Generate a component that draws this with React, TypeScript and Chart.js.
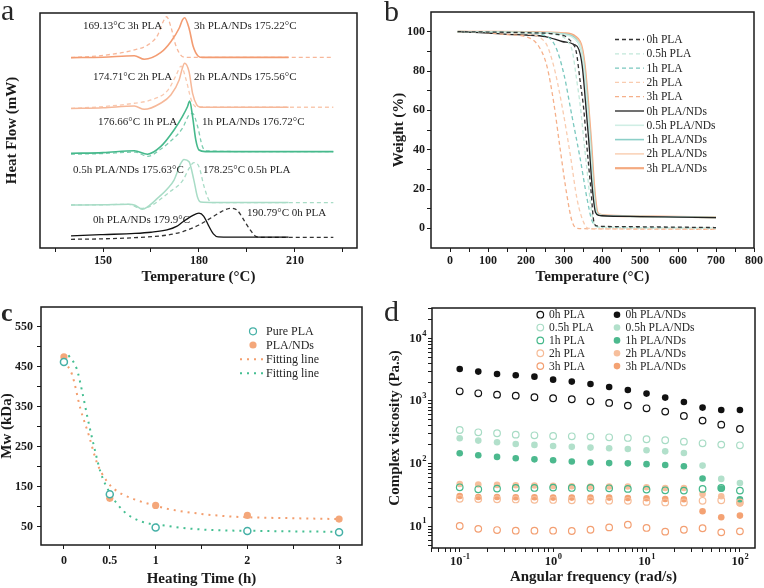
import React, { useEffect, useRef } from 'react';
import { Chart, registerables } from 'chart.js';

Chart.register(...registerables);

const SERIF = '"Liberation Serif", "Times New Roman", serif';
const INK = '#1a1a1a';

// ================= Panel a : DSC curves (T in °C, heat flow in offset units) =================
const a0hNdT = [140, 150, 160, 165, 170, 173, 175, 178, 180, 181.5, 183, 184.5, 186, 190, 200, 208];
const a0hNdV = [5.2, 5.7, 6.2, 6.7, 7.7, 9.2, 11.2, 13.8, 14.8, 13.5, 9.5, 6.0, 4.7, 4.6, 4.6, 4.6];
const a0hT = [140, 150, 160, 170, 175, 180, 184, 187, 190, 192, 194, 196, 198, 200, 210, 222];
const a0hV = [3.7, 3.9, 4.4, 5.5, 7.0, 9.8, 13.0, 15.5, 16.9, 16.0, 12.0, 7.7, 4.8, 4.5, 4.5, 4.5];
const a05NdT = [140, 150, 158, 160, 162.3, 164, 167, 170, 172.2, 174.3, 175.3, 176.9, 178.4, 179.5, 180.5, 185, 200, 208];
const a05NdV = [18.3, 18.4, 18.6, 18.2, 16.5, 17.6, 21.1, 25.0, 28.9, 36.0, 37.7, 36.7, 28.9, 21.8, 19.6, 19.4, 19.4, 19.4];
const a05T = [140, 150, 158, 162, 165, 170.3, 175, 176.9, 178.4, 180, 181.6, 183.1, 184.5, 200, 222];
const a05V = [18.3, 18.4, 18.6, 16.8, 18.0, 23.3, 28.9, 33.9, 36.3, 34.6, 26.1, 20.4, 19.3, 19.3, 19.3];
const a1NdT = [140, 150, 159.8, 163.9, 168, 172.2, 174.8, 176.4, 177.1, 178, 179, 180, 182, 200, 222];
const a1NdV = [40.3, 40.6, 41.4, 39.9, 43.1, 50.2, 55.9, 60.1, 62.5, 55.9, 46.0, 41.7, 41.0, 41.0, 41.0];
const a1T = [140, 150, 160, 164, 168, 170.3, 174.8, 176.9, 178, 179.6, 181.1, 182.7, 200, 222];
const a1V = [39.9, 40.2, 40.8, 39.0, 42.0, 44.5, 50.9, 56.6, 57.3, 51.6, 43.1, 41.3, 41.0, 41.0];
const a2NdT = [140, 150, 159.8, 162.9, 168, 171.2, 173.8, 174.8, 175.5, 176.9, 178, 179.3, 180.5, 200, 208];
const a2NdV = [59.4, 59.7, 60.4, 59.0, 61.6, 65.1, 71.5, 76.5, 78.6, 75.0, 65.8, 60.9, 59.9, 59.9, 59.9];
const a2T = [140, 150, 159.8, 165, 170.3, 172.9, 174.4, 176, 177.6, 179.1, 190, 222];
const a2V = [59.4, 60.2, 61.6, 63.0, 67.2, 73.6, 77.4, 71.5, 63.0, 60.1, 59.9, 59.9];
const a3NdT = [140, 150, 159.8, 162.9, 168, 171.2, 173.8, 174.8, 175.5, 176.9, 178.2, 179.7, 181, 200, 208];
const a3NdV = [81.0, 81.2, 81.8, 80.3, 83.1, 87.8, 93.5, 97.0, 98.0, 93.5, 85.7, 81.7, 81.1, 81.1, 81.1];
const a3T = [140, 150.8, 159.8, 164, 167.1, 168.8, 169.9, 171.2, 172.7, 174.3, 175.9, 190, 222];
const a3V = [81.0, 82.1, 84.3, 86.4, 90.6, 96.3, 98.4, 94.2, 86.4, 82.1, 81.1, 81.1, 81.1];
const aTicks = [135, 150, 165, 180, 195, 210, 225];
const aLabels = [150, 180, 210];

// ================= Panel b : TGA curves (T in °C, weight %) =================
const b0hT = [20, 100, 200, 300, 308, 321, 332, 343, 352, 361, 370, 379, 387, 400, 500, 600, 700];
const b0hW = [100, 99.8, 99.5, 98, 97, 94.4, 90, 74, 60.5, 40, 21.5, 3, 1.2, 1.0, 0.8, 0.6, 0.4];
const b05T = [20, 100, 200, 290, 310, 322, 333, 343, 352, 362, 370, 378, 388, 400, 700];
const b05W = [100, 99.8, 99.5, 98, 95, 90, 76, 62, 45, 27, 12, 3, 0.8, 0.5, 0.2];
const b1T = [20, 100, 200, 250, 277, 299, 321, 343, 361, 374, 392, 500, 700];
const b1W = [100, 99.8, 99.3, 98, 92.7, 79, 57, 35, 14.7, 3.7, 0.7, 0.4, 0.2];
const b2T = [20, 100, 200, 251, 273, 295, 317, 334.5, 352, 365, 400, 700];
const b2W = [100, 99.7, 98.8, 94.4, 82.5, 62, 36.8, 14.7, 2.9, 0, -0.2, -0.4];
const b3T = [20, 100, 150, 198, 233, 255, 273, 290, 308, 321, 334.5, 400, 700];
const b3W = [100, 99.5, 98.5, 97.5, 92.7, 82.5, 63.9, 40.2, 16.4, 3.7, 0, -0.3, -0.5];
const b0hNdT = [20, 100, 154, 200, 251, 295, 326, 339, 348, 356, 365, 374, 383, 392, 400, 500, 600, 700];
const b0hNdW = [100, 99.3, 98.6, 98.3, 97.5, 95, 93.5, 91, 82.5, 65.6, 45, 21.5, 8, 6.6, 6.4, 6.0, 5.7, 5.4];
const b05NdT = [20, 100, 200, 300, 330, 345, 352, 360, 368, 376, 385, 392, 400, 500, 700];
const b05NdW = [100, 99.8, 99.5, 98.5, 96, 91, 82, 65, 45, 22, 8, 6.8, 6.5, 6.0, 5.5];
const b1NdT = [20, 100, 200, 300, 330, 345, 353, 361, 369, 377, 386, 393, 400, 500, 700];
const b1NdW = [100, 99.8, 99.6, 98.8, 96.5, 91, 82, 65, 45, 22, 8, 6.8, 6.5, 6.0, 5.5];
const b2NdT = [20, 100, 200, 300, 330, 346, 354, 362, 370, 378, 387, 394, 400, 500, 700];
const b2NdW = [100, 99.9, 99.7, 99, 97, 92, 82, 65, 45, 22, 8, 6.9, 6.6, 6.0, 5.6];
const b3NdT = [20, 100, 200, 300, 330, 347, 355, 363, 371, 379, 388, 395, 400, 500, 700];
const b3NdW = [100, 99.9, 99.8, 99.2, 97.5, 92, 82, 65, 45, 22, 8, 7, 6.7, 6.1, 5.6];
const bXTicks = [0, 50, 100, 150, 200, 250, 300, 350, 400, 450, 500, 550, 600, 650, 700, 750, 800];
const bYTicks = [0, 10, 20, 30, 40, 50, 60, 70, 80, 90, 100];

// ================= Panel c : Mw vs heating time =================
const cTime = [0, 0.5, 1, 2, 3];
const cPure = [462, 131, 48, 39, 36];
const cNDs = [475, 121, 103, 78, 69];
const cFitNdT = [0, 0.09, 0.18, 0.27, 0.36, 0.47, 0.56, 0.76, 0.94, 1.12, 1.49, 1.85, 2.5, 3.0];
const cFitNdV = [465, 430, 345, 280, 210, 163, 142, 119, 106, 95, 82, 75, 71, 69];
const cFitPureT = [0.05, 0.14, 0.2, 0.26, 0.33, 0.4, 0.51, 0.65, 0.83, 1.12, 1.49, 2.21, 3.0];
const cFitPureV = [479, 445, 387, 320, 249, 186, 131, 89, 64, 52, 43, 39, 37];
const cXTicks = [0, 0.5, 1, 1.5, 2, 2.5, 3];
const cXLabels = [0, 0.5, 1, 2, 3];
const cYTicks = [50, 100, 150, 200, 250, 300, 350, 400, 450, 500, 550];
const cYLabels = [50, 150, 250, 350, 450, 550];

// ================= Panel d : complex viscosity vs angular frequency =================
const dFreq = [0.1, 0.158, 0.251, 0.398, 0.631, 1, 1.585, 2.512, 3.981, 6.31, 10, 15.85, 25.12, 39.81, 63.1, 100];
const d0h = [1427, 1325, 1262, 1216, 1145, 1104, 1064, 988, 929, 843, 764, 676, 576, 486, 419, 357];
const d0hNd = [3243, 2939, 2698, 2570, 2443, 2190, 2035, 1868, 1672, 1499, 1310, 1131, 964, 783, 718, 718];
const d05 = [344, 316, 305, 290, 283, 276, 273, 270, 263, 257, 245, 236, 224, 211, 201, 196];
const d05Nd = [254, 233, 219, 206, 199, 191, 185, 180, 176, 171, 163, 157, 148, 93, 57, 49];
const d1 = [41.9, 38.9, 39.9, 40.9, 40.9, 41.4, 40.9, 40.9, 40.4, 39.5, 38.5, 37.5, 37.1, 39.5, 40.9, 37.1];
const d1Nd = [146, 136, 128, 122, 117, 113, 108, 104, 102, 101, 98, 95, 91, 58, 40, 27];
const d2 = [27.5, 27.2, 27.0, 26.8, 26.5, 26.3, 26.0, 25.8, 25.6, 25.5, 24.5, 24.0, 24.0, 25.5, 26.0, 24.0];
const d2Nd = [47.4, 46.3, 45.7, 45.2, 44.7, 44.1, 43.6, 43.1, 43.1, 43.1, 41.9, 40.9, 40.9, 32.8, 30.1, 23.0];
const d3 = [10.1, 9.1, 8.7, 8.5, 8.5, 8.5, 8.4, 8.8, 9.6, 10.6, 9.4, 8.2, 8.8, 9.3, 8.0, 8.3];
const d3Nd = [30.5, 29.4, 29.4, 29.0, 29.0, 28.7, 28.7, 28.7, 28.7, 28.3, 28.0, 27.3, 27.0, 17.4, 13.9, 14.8];
const dXPowers = [0.1, 1, 10, 100];
const dYPowers = [10, 100, 1000, 10000];

// ---------------- helpers ----------------
const zip = (xs: number[], ys: number[]) => xs.map((x, i) => ({ x, y: ys[i] }));
const tickFont = { family: SERIF, size: 12, weight: 'bold' as const };
const titleFont = { family: SERIF, size: 15, weight: 'bold' as const };

function logTicks(lo: number, hi: number) {
  const out: number[] = [];
  for (let e = -3; e <= 5; e++) {
    for (let d = 1; d <= 9; d++) {
      const v = parseFloat((d * Math.pow(10, e)).toPrecision(6));
      if (v >= lo && v <= hi) out.push(v);
    }
  }
  return out;
}

function axis(o: any) {
  const horiz = o.pos === 'bottom';
  return {
    type: o.type || 'linear',
    position: o.pos,
    min: o.min,
    max: o.max,
    bounds: 'data',
    afterBuildTicks: (s: any) => {
      s.ticks = (o.ticks || []).map((v: number) => ({ value: v }));
    },
    afterFit: (s: any) => {
      if (horiz) s.height = o.size;
      else s.width = o.size;
      s.paddingLeft = 0;
      s.paddingRight = 0;
      s.paddingTop = 0;
      s.paddingBottom = 0;
    },
    ticks: {
      display: o.ticks !== undefined,
      autoSkip: false,
      maxRotation: 0,
      minRotation: 0,
      padding: o.pad ?? 2,
      color: INK,
      font: tickFont,
      callback: o.label,
    },
    grid: {
      display: o.ticks !== undefined,
      drawOnChartArea: false,
      drawTicks: true,
      tickLength: 4,
      color: INK,
      lineWidth: 1,
    },
    border: { display: false },
    title: {
      display: true,
      text: o.title,
      color: INK,
      font: titleFont,
      padding: horiz ? { top: 0, bottom: o.tpad } : { top: o.tpad, bottom: 0 },
    },
  };
}

const framePlugin = {
  id: 'frame',
  afterDraw(chart: any) {
    const { ctx, chartArea } = chart;
    const { left, top, right, bottom } = chartArea;
    ctx.save();
    ctx.strokeStyle = INK;
    ctx.lineWidth = 1.5;
    ctx.strokeRect(left, top, right - left, bottom - top);
    ctx.restore();
  },
};

// power-of-ten labels with real superscripts for the log axes of panel d
const powLabelPlugin = {
  id: 'powLabels',
  afterDraw(chart: any) {
    const ctx = chart.ctx;
    const sx = chart.scales.x;
    const sy = chart.scales.y;
    ctx.save();
    ctx.fillStyle = INK;
    ctx.textBaseline = 'middle';
    ctx.textAlign = 'left';
    const draw = (v: number, px: number, py: number, align: 'center' | 'right') => {
      const e = String(Math.round(Math.log10(v)));
      ctx.font = `bold 12.5px ${SERIF}`;
      const w1 = ctx.measureText('10').width;
      ctx.font = `bold 8.5px ${SERIF}`;
      const w2 = ctx.measureText(e).width;
      const x0 = align === 'center' ? px - (w1 + w2) / 2 : px - (w1 + w2);
      ctx.font = `bold 12.5px ${SERIF}`;
      ctx.fillText('10', x0, py);
      ctx.font = `bold 8.5px ${SERIF}`;
      ctx.fillText(e, x0 + w1 + 0.5, py - 5);
    };
    for (const v of dXPowers) draw(v, sx.getPixelForValue(v), sx.top + 14, 'center');
    for (const v of dYPowers) draw(v, sy.right - 6, sy.getPixelForValue(v), 'right');
    ctx.restore();
  },
};

type TextItem = { t: string; x: number; y: number; size?: number; bold?: boolean; align?: CanvasTextAlign; base?: CanvasTextBaseline };
function textPlugin(items: TextItem[]) {
  return {
    id: 'texts',
    afterDraw(chart: any) {
      const ctx = chart.ctx;
      ctx.save();
      for (const it of items) {
        ctx.font = `${it.bold ? 'bold ' : ''}${it.size ?? 11}px ${SERIF}`;
        ctx.fillStyle = '#262626';
        ctx.textAlign = it.align ?? 'left';
        ctx.textBaseline = it.base ?? 'middle';
        ctx.fillText(it.t, it.x, it.y);
      }
      ctx.restore();
    },
  };
}

type LegItem = { label: string; y: number; kind: 'line' | 'open' | 'filled'; color: string; dash?: number[]; width?: number; mx?: number; x0?: number; x1?: number; tx: number; r?: number };
function legendPlugin(items: LegItem[], size: number) {
  return {
    id: 'customLegend',
    afterDraw(chart: any) {
      const ctx = chart.ctx;
      ctx.save();
      for (const it of items) {
        if (it.kind === 'line') {
          ctx.beginPath();
          ctx.setLineDash(it.dash || []);
          ctx.strokeStyle = it.color;
          ctx.lineWidth = it.width ?? 1.3;
          ctx.moveTo(it.x0!, it.y);
          ctx.lineTo(it.x1!, it.y);
          ctx.stroke();
          ctx.setLineDash([]);
        } else {
          ctx.beginPath();
          ctx.arc(it.mx!, it.y, it.r ?? 3.3, 0, Math.PI * 2);
          if (it.kind === 'filled') {
            ctx.fillStyle = it.color;
            ctx.fill();
          } else {
            ctx.fillStyle = '#fff';
            ctx.fill();
            ctx.lineWidth = 1.2;
            ctx.strokeStyle = it.color;
            ctx.stroke();
          }
        }
        ctx.font = `${size}px ${SERIF}`;
        ctx.fillStyle = '#262626';
        ctx.textAlign = 'left';
        ctx.textBaseline = 'middle';
        ctx.fillText(it.label, it.tx, it.y + 0.5);
      }
      ctx.restore();
    },
  };
}

function baseOptions(padding: any, scales: any) {
  return {
    animation: false,
    responsive: false,
    maintainAspectRatio: false,
    devicePixelRatio: 1,
    events: [],
    layout: { padding },
    plugins: { legend: { display: false }, tooltip: { enabled: false } },
    scales,
  };
}

const lineDs = (label: string, xs: number[], ys: number[], color: string, dashed: boolean, width = 1.3) => ({
  label,
  data: zip(xs, ys),
  borderColor: color,
  backgroundColor: color,
  borderWidth: width,
  borderDash: dashed ? [4, 3] : [],
  pointRadius: 0,
  fill: false,
  cubicInterpolationMode: 'monotone',
});

// ---------------- panel configs ----------------
const A = { c0: '#111111', c05: '#a8dcc6', c1: '#46b98c', c2: '#f6b899', c3: '#f39c72' };

function configA() {
  const datasets = [
    lineDs('0h PLA/NDs', a0hNdT, a0hNdV, A.c0, false),
    lineDs('0h PLA', a0hT, a0hV, '#333333', true),
    lineDs('0.5h PLA/NDs', a05NdT, a05NdV, A.c05, false, 1.5),
    lineDs('0.5h PLA', a05T, a05V, A.c05, true),
    lineDs('1h PLA/NDs', a1NdT, a1NdV, A.c1, false, 1.6),
    lineDs('1h PLA', a1T, a1V, '#7dcdb0', true),
    lineDs('2h PLA/NDs', a2NdT, a2NdV, A.c2, false, 1.5),
    lineDs('2h PLA', a2T, a2V, '#f9c9b0', true),
    lineDs('3h PLA/NDs', a3NdT, a3NdV, A.c3, false, 1.6),
    lineDs('3h PLA', a3T, a3V, '#f7b79a', true),
  ];
  const texts: TextItem[] = [
    { t: 'a', x: 1, y: 19.5, size: 30, base: 'alphabetic' },
    { t: '169.13°C 3h PLA', x: 83, y: 26 },
    { t: '3h PLA/NDs 175.22°C', x: 194, y: 26 },
    { t: '174.71°C 2h PLA', x: 93, y: 77 },
    { t: '2h PLA/NDs 175.56°C', x: 194, y: 77 },
    { t: '176.66°C 1h PLA', x: 98, y: 122 },
    { t: '1h PLA/NDs 176.72°C', x: 202, y: 122 },
    { t: '0.5h PLA/NDs 175.63°C', x: 73, y: 170 },
    { t: '178.25°C 0.5h PLA', x: 203, y: 170 },
    { t: '0h PLA/NDs 179.9°C', x: 93, y: 220 },
    { t: '190.79°C 0h PLA', x: 247, y: 213 },
  ];
  return {
    type: 'line',
    data: { datasets },
    options: baseOptions({ left: 0, top: 13, right: 25, bottom: 0 }, {
      x: axis({ pos: 'bottom', min: 130.3, max: 229.4, ticks: aTicks, label: (v: number) => (aLabels.includes(v) ? String(v) : ''), title: 'Temperature (°C)', size: 46, pad: 2, tpad: 8 }),
      y: axis({ pos: 'left', min: 0, max: 100, title: 'Heat Flow (mW)', size: 40, tpad: 3 }),
    }),
    plugins: [framePlugin, textPlugin(texts)],
  };
}

const B = [
  { label: '0h PLA', T: b0hT, W: b0hW, color: '#333333', dash: true, w: 1.3 },
  { label: '0.5h PLA', T: b05T, W: b05W, color: '#c2e8da', dash: true, w: 1.3 },
  { label: '1h PLA', T: b1T, W: b1W, color: '#7ac8bf', dash: true, w: 1.3 },
  { label: '2h PLA', T: b2T, W: b2W, color: '#f9ccb0', dash: true, w: 1.3 },
  { label: '3h PLA', T: b3T, W: b3W, color: '#f5b08a', dash: true, w: 1.3 },
  { label: '0h PLA/NDs', T: b0hNdT, W: b0hNdW, color: '#222222', dash: false, w: 1.3 },
  { label: '0.5h PLA/NDs', T: b05NdT, W: b05NdW, color: '#d0eee5', dash: false, w: 1.6 },
  { label: '1h PLA/NDs', T: b1NdT, W: b1NdW, color: '#8ccfc8', dash: false, w: 1.6 },
  { label: '2h PLA/NDs', T: b2NdT, W: b2NdW, color: '#f8c8a8', dash: false, w: 1.3 },
  { label: '3h PLA/NDs', T: b3NdT, W: b3NdW, color: '#f4aa80', dash: false, w: 2.2 },
];

function configB() {
  const datasets = B.map((s) => lineDs(s.label, s.T, s.W, s.color, s.dash, s.w));
  const leg: LegItem[] = B.map((s, i) => ({
    label: s.label,
    y: 39.5 + i * 14.3,
    kind: 'line',
    color: s.color,
    dash: s.dash ? [4, 3] : [],
    width: s.w,
    x0: 233,
    x1: 262,
    tx: 264.5,
  }));
  return {
    type: 'line',
    data: { datasets },
    options: baseOptions({ left: 0, top: 12, right: 10, bottom: 0 }, {
      x: axis({ pos: 'bottom', min: -50, max: 800, ticks: bXTicks, label: (v: number) => (v % 100 === 0 ? String(v) : ''), title: 'Temperature (°C)', size: 46, pad: 2, tpad: 8 }),
      y: axis({ pos: 'left', min: -10, max: 110, ticks: bYTicks, label: (v: number) => (v % 20 === 0 ? String(v) : ''), title: 'Weight (%)', size: 49, pad: 2, tpad: 7.7 }),
    }),
    plugins: [framePlugin, legendPlugin(leg, 11.5), textPlugin([{ t: 'b', x: 2, y: 20.5, size: 30, base: 'alphabetic' }])],
  };
}

const C = { pure: '#45b0a6', nds: '#f4a77a', fitNd: '#f39e6e', fitPure: '#45bf92' };

function configC() {
  const datasets = [
    { label: 'Pure PLA', data: zip(cTime, cPure), showLine: false, pointRadius: 3.5, pointBorderWidth: 1.5, pointBackgroundColor: '#ffffff', pointBorderColor: C.pure, borderColor: C.pure },
    { label: 'PLA/NDs', data: zip(cTime, cNDs), showLine: false, pointRadius: 3.6, pointBorderWidth: 0, pointBackgroundColor: C.nds, pointBorderColor: C.nds, borderColor: C.nds },
    { label: 'Fitting line', data: zip(cFitNdT, cFitNdV), borderColor: C.fitNd, borderWidth: 2, borderDash: [2, 5], pointRadius: 0, cubicInterpolationMode: 'monotone' },
    { label: 'Fitting line', data: zip(cFitPureT, cFitPureV), borderColor: C.fitPure, borderWidth: 2, borderDash: [2, 5], pointRadius: 0, cubicInterpolationMode: 'monotone' },
  ];
  const leg: LegItem[] = [
    { label: 'Pure PLA', y: 37.3, kind: 'open', color: C.pure, mx: 253, tx: 266, r: 3.5 },
    { label: 'PLA/NDs', y: 51, kind: 'filled', color: C.nds, mx: 253, tx: 266, r: 3.6 },
    { label: 'Fitting line', y: 65.3, kind: 'line', color: C.fitNd, dash: [2, 5], width: 2, x0: 240, x1: 264, tx: 266 },
    { label: 'Fitting line', y: 79.3, kind: 'line', color: C.fitPure, dash: [2, 5], width: 2, x0: 240, x1: 264, tx: 266 },
  ];
  return {
    type: 'line',
    data: { datasets },
    options: baseOptions({ left: 0, top: 13, right: 20, bottom: 0 }, {
      x: axis({ pos: 'bottom', min: -0.25, max: 3.25, ticks: cXTicks, label: (v: number) => (cXLabels.includes(v) ? String(v) : ''), title: 'Heating Time (h)', size: 43, pad: 4.5, tpad: 0 }),
      y: axis({ pos: 'left', min: 4, max: 600, ticks: cYTicks, label: (v: number) => (cYLabels.includes(v) ? String(v) : ''), title: 'Mw (kDa)', size: 41, pad: 4, tpad: -1.5 }),
    }),
    plugins: [framePlugin, legendPlugin(leg, 12), textPlugin([{ t: 'c', x: 1, y: 27.3, size: 26, bold: true, base: 'alphabetic' }])],
  };
}

const D = [
  { label: '0h PLA', v: d0h, color: '#111111', filled: false },
  { label: '0.5h PLA', v: d05, color: '#a8dcc5', filled: false },
  { label: '1h PLA', v: d1, color: '#45b88b', filled: false },
  { label: '2h PLA', v: d2, color: '#f6bc98', filled: false },
  { label: '3h PLA', v: d3, color: '#f39f72', filled: false },
  { label: '0h PLA/NDs', v: d0hNd, color: '#111111', filled: true },
  { label: '0.5h PLA/NDs', v: d05Nd, color: '#b2e0cb', filled: true },
  { label: '1h PLA/NDs', v: d1Nd, color: '#4cb98e', filled: true },
  { label: '2h PLA/NDs', v: d2Nd, color: '#f7bf9c', filled: true },
  { label: '3h PLA/NDs', v: d3Nd, color: '#f4a273', filled: true },
];

function configD() {
  const datasets = D.map((s) => ({
    label: s.label,
    data: zip(dFreq, s.v),
    showLine: false,
    pointRadius: 3.3,
    pointBorderWidth: s.filled ? 0 : 1.2,
    pointBackgroundColor: s.filled ? s.color : 'rgba(255,255,255,0)',
    pointBorderColor: s.color,
    borderColor: s.color,
  }));
  const leg: LegItem[] = D.map((s, i) => ({
    label: s.label,
    y: 20.7 + (i % 5) * 12.85,
    kind: s.filled ? 'filled' : 'open',
    color: s.color,
    mx: i < 5 ? 158.3 : 235,
    tx: i < 5 ? 167 : 243.5,
  }));
  const none = () => '';
  return {
    type: 'line',
    data: { datasets },
    options: baseOptions({ left: 0, top: 14, right: 9, bottom: 0 }, {
      x: axis({ pos: 'bottom', type: 'logarithmic', min: 0.0505, max: 145, ticks: logTicks(0.05, 145), label: none, title: 'Angular frequency (rad/s)', size: 40, pad: 3.5, tpad: 2 }),
      y: axis({ pos: 'left', type: 'logarithmic', min: 4.5, max: 30450, ticks: logTicks(4.5, 30450), label: none, title: 'Complex viscosity (Pa.s)', size: 50, pad: 5, tpad: 4 }),
    }),
    plugins: [framePlugin, powLabelPlugin, legendPlugin(leg, 11.5), textPlugin([{ t: 'd', x: 2, y: 27.3, size: 30, base: 'alphabetic' }])],
  };
}

function Panel({ left, top, make }: { left: number; top: number; make: () => any }) {
  const ref = useRef<HTMLCanvasElement>(null);
  useEffect(() => {
    const chart = new Chart(ref.current as HTMLCanvasElement, make());
    return () => chart.destroy();
  }, []);
  return (
    <canvas
      ref={ref}
      width={382}
      height={294}
      style={{ position: 'absolute', left, top, width: 382, height: 294 }}
    />
  );
}

export default function App() {
  return (
    <div style={{ position: 'fixed', left: 0, top: 0, width: 764, height: 588, background: '#ffffff', overflow: 'hidden' }}>
      <Panel left={0} top={0} make={configA} />
      <Panel left={382} top={0} make={configB} />
      <Panel left={0} top={294} make={configC} />
      <Panel left={382} top={294} make={configD} />
    </div>
  );
}
